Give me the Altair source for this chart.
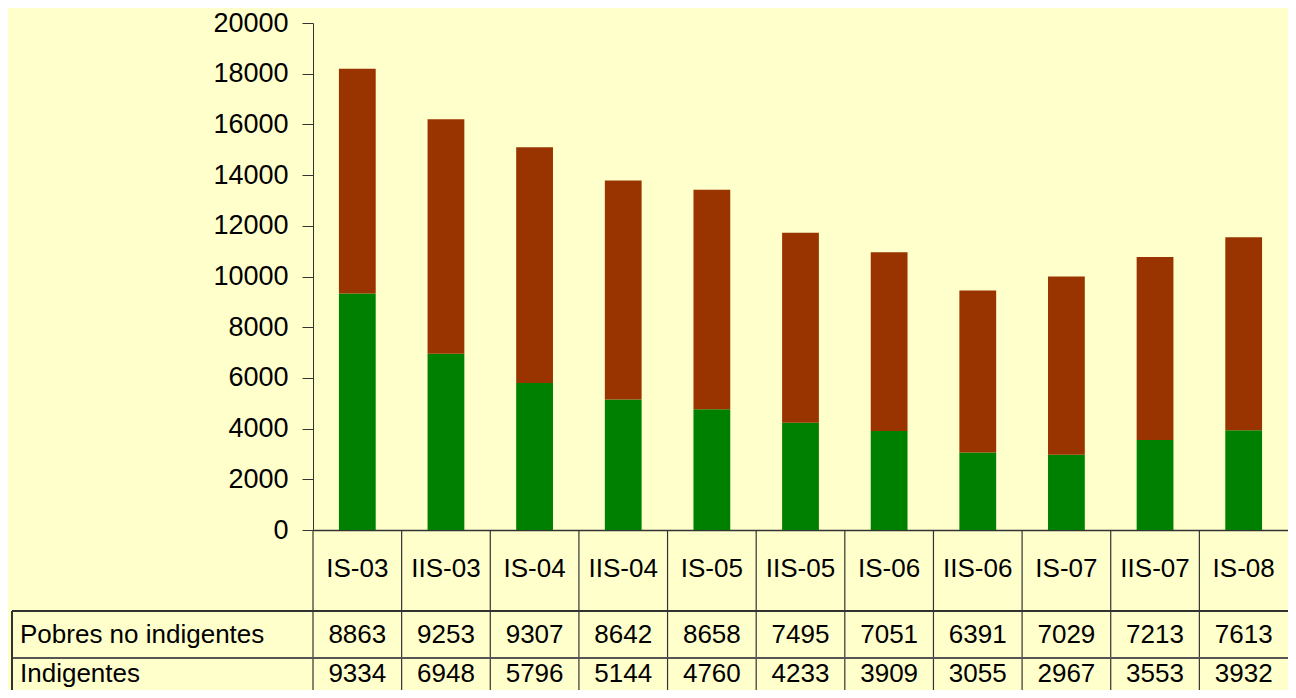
import altair as alt
import pandas as pd

categories = ["IS-03", "IIS-03", "IS-04", "IIS-04", "IS-05", "IIS-05",
              "IS-06", "IIS-06", "IS-07", "IIS-07", "IS-08"]
pobres_no_indigentes = [8863, 9253, 9307, 8642, 8658, 7495, 7051, 6391, 7029, 7213, 7613]
indigentes = [9334, 6948, 5796, 5144, 4760, 4233, 3909, 3055, 2967, 3553, 3932]
series_names = ["Pobres no indigentes", "Indigentes"]
y_ticks = list(range(0, 20001, 2000))

rows = []
for i, c in enumerate(categories):
    rows.append({"cat": c, "serie": "Indigentes", "valor": indigentes[i], "ord": 0})
    rows.append({"cat": c, "serie": "Pobres no indigentes", "valor": pobres_no_indigentes[i], "ord": 1})
df = pd.DataFrame(rows)
cats_df = pd.DataFrame({"cat": categories})
labels_df = pd.DataFrame({"serie": series_names})

W, H = 975, 507
FONT = "Liberation Sans"
FS = 26
LINE = "#333333"

x_enc = alt.X("cat:N", sort=categories,
              scale=alt.Scale(paddingInner=0, paddingOuter=0),
              axis=alt.Axis(labels=False, ticks=False, domain=True, title=None,
                            domainColor=LINE, domainWidth=1.5))

bars = alt.Chart(df).mark_bar(width={"band": 0.415}).encode(
    x=x_enc,
    y=alt.Y("valor:Q", stack="zero",
            scale=alt.Scale(domain=[0, 20000], nice=False),
            axis=alt.Axis(values=y_ticks, title=None, grid=False, format="d",
                          labelFont=FONT, labelFontSize=27, labelColor="black",
                          labelPadding=14, tickSize=11, tickColor=LINE,
                          domainColor=LINE)),
    color=alt.Color("serie:N",
                    scale=alt.Scale(domain=["Indigentes", "Pobres no indigentes"],
                                    range=["#008000", "#993300"]),
                    legend=None),
    order=alt.Order("ord:Q", sort="ascending"),
)

# table: vertical separators at category boundaries
vlines = alt.Chart(cats_df).mark_rule(color=LINE, strokeWidth=1.2).encode(
    x=alt.X("cat:N", sort=categories, bandPosition=0),
    y=alt.value(H),
    y2=alt.value(H + 170),
)
hline1 = alt.Chart(cats_df).mark_rule(color=LINE, strokeWidth=1.2).encode(
    x=alt.value(-301), x2=alt.value(W), y=alt.value(588))
hline2 = alt.Chart(cats_df).mark_rule(color="#555555", strokeWidth=1.2).encode(
    x=alt.value(-301), x2=alt.value(W), y=alt.value(635))
lborder = alt.Chart(cats_df).mark_rule(color=LINE, strokeWidth=1.2).encode(
    x=alt.value(-301), y=alt.value(588), y2=alt.value(H + 170))

header = alt.Chart(cats_df).mark_text(font=FONT, fontSize=FS, color="black",
                                      baseline="alphabetic").encode(
    x=alt.X("cat:N", sort=categories), y=alt.value(554), text="cat:N")

row1 = alt.Chart(df).transform_filter(alt.datum.serie == series_names[0]).mark_text(
    font=FONT, fontSize=FS, color="black", baseline="alphabetic").encode(
    x=alt.X("cat:N", sort=categories), y=alt.value(620), text="valor:Q")
row2 = alt.Chart(df).transform_filter(alt.datum.serie == series_names[1]).mark_text(
    font=FONT, fontSize=FS, color="black", baseline="alphabetic").encode(
    x=alt.X("cat:N", sort=categories), y=alt.value(659), text="valor:Q")

lab1 = alt.Chart(labels_df).transform_filter(alt.datum.serie == series_names[0]).mark_text(
    font=FONT, fontSize=FS, color="black", align="left", baseline="alphabetic").encode(
    x=alt.value(-293), y=alt.value(620), text="serie:N")
lab2 = alt.Chart(labels_df).transform_filter(alt.datum.serie == series_names[1]).mark_text(
    font=FONT, fontSize=FS, color="black", align="left", baseline="alphabetic").encode(
    x=alt.value(-293), y=alt.value(659), text="serie:N")

chart = alt.layer(bars, vlines, hline1, hline2, lborder, header, row1, row2, lab1, lab2).properties(
    width=W, height=H,
    autosize=alt.AutoSizeParams(type="none"),
    padding={"left": 305, "top": 15, "right": 0, "bottom": 160},
    background="#FFFFCC",
).configure_view(stroke=None)

chart.save("out.html", embed_options={"renderer": "svg", "actions": False})
